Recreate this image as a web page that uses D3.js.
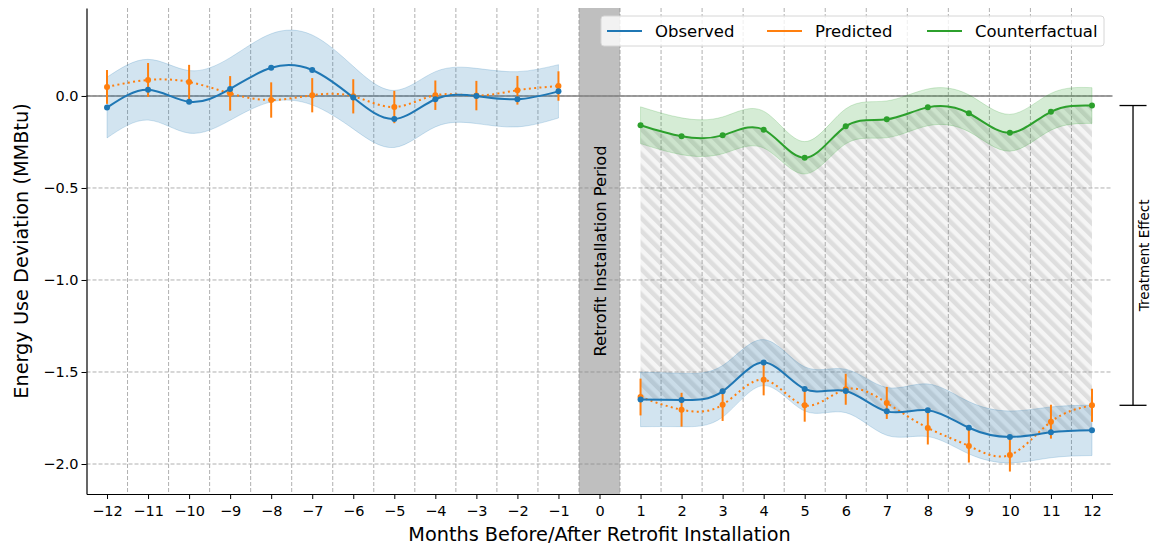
<!DOCTYPE html>
<html>
<head>
<meta charset="utf-8">
<script src="https://cdn.jsdelivr.net/npm/d3@7"></script>
<style>
  body { margin: 0; background: #fff; }
  svg { font-family: "DejaVu Sans", sans-serif; display: block; }
</style>
</head>
<body>
<div id="chart"></div>
<script>
// ---- data ----
const monthsPre = [-12, -11, -10, -9, -8, -7, -6, -5, -4, -3, -2, -1];
const monthsPost = [1, 2, 3, 4, 5, 6, 7, 8, 9, 10, 11, 12];

const observedPre = [-0.063, 0.034, -0.032, 0.038, 0.153, 0.141, -0.009, -0.125, -0.018, 0.0, -0.018, 0.025];
const observedPreBand = [0.165, 0.165, 0.17, 0.17, 0.185, 0.19, 0.17, 0.155, 0.15, 0.15, 0.15, 0.145];
const predictedPre = [0.049, 0.087, 0.076, 0.014, -0.022, 0.004, -0.002, -0.06, 0.004, 0.002, 0.031, 0.054];
const predictedPreErr = [0.092, 0.092, 0.093, 0.094, 0.096, 0.093, 0.093, 0.088, 0.08, 0.08, 0.078, 0.08];

const observedPost = [-1.649, -1.652, -1.605, -1.449, -1.592, -1.603, -1.714, -1.708, -1.803, -1.853, -1.828, -1.817];
const observedPostBand = [0.148, 0.145, 0.14, 0.125, 0.12, 0.118, 0.13, 0.143, 0.142, 0.141, 0.138, 0.137];
const predictedPost = [-1.636, -1.705, -1.678, -1.542, -1.681, -1.594, -1.668, -1.804, -1.902, -1.951, -1.770, -1.681];
const predictedPostErr = [0.1, 0.092, 0.088, 0.085, 0.089, 0.084, 0.087, 0.09, 0.09, 0.09, 0.092, 0.09];

const counterfactual = [-0.159, -0.219, -0.214, -0.183, -0.336, -0.165, -0.127, -0.062, -0.094, -0.2, -0.086, -0.052];
const counterfactualBand = [0.1, 0.1, 0.1, 0.1, 0.088, 0.095, 0.1, 0.1, 0.1, 0.1, 0.1, 0.097];

const xTicks = d3.range(-12, 13);
const yTicks = [0, -0.5, -1.0, -1.5, -2.0];
const seriesNames = ["Observed", "Predicted", "Counterfactual"];
const colors = { obs: "#1f77b4", pred: "#ff7f0e", cf: "#2ca02c" };

// ---- layout ----
const width = 1156, height = 549;
const margin = { top: 8, right: 43.5, bottom: 55, left: 86.5 };

const svg = d3.select("#chart").append("svg")
  .attr("width", width).attr("height", height);

const x = d3.scaleLinear().domain([-12.5, 12.5]).range([margin.left, width - margin.right]);
const y = d3.scaleLinear().domain([-2.163, 0.478]).range([height - margin.bottom, margin.top]);

const fmt = v => d3.format(".1f")(v).replace("-", "\u2212");

// hatch pattern
const defs = svg.append("defs");
const pat = defs.append("pattern")
  .attr("id", "hatch")
  .attr("patternUnits", "userSpaceOnUse")
  .attr("width", 9).attr("height", 9)
  .attr("patternTransform", "rotate(-45)");
pat.append("rect").attr("width", 9).attr("height", 9).attr("fill", "rgba(128,128,128,0.08)");
pat.append("rect").attr("width", 4.5).attr("height", 9).attr("fill", "rgba(128,128,128,0.2)");

// grid
const grid = svg.append("g").attr("stroke", "#b0b0b0").attr("stroke-width", 1).attr("stroke-dasharray", "4,2");
grid.selectAll("line.v")
  .data(d3.range(-11.5, 12, 1))
  .join("line")
  .attr("x1", d => x(d)).attr("x2", d => x(d))
  .attr("y1", y.range()[1]).attr("y2", y.range()[0]);
grid.selectAll("line.h")
  .data(yTicks)
  .join("line")
  .attr("x1", x.range()[0]).attr("x2", x.range()[1])
  .attr("y1", d => y(d)).attr("y2", d => y(d));

// installation period band
svg.append("rect")
  .attr("x", x(-0.5)).attr("width", x(0.5) - x(-0.5))
  .attr("y", y.range()[1]).attr("height", y.range()[0] - y.range()[1])
  .attr("fill", "#808080").attr("fill-opacity", 0.5);

svg.append("text")
  .attr("transform", `translate(${x(0) + 6},${(y.range()[0] + y.range()[1]) / 2}) rotate(-90)`)
  .attr("text-anchor", "middle")
  .attr("font-size", 16.3)
  .text("Retrofit Installation Period");

// zero line
svg.append("line")
  .attr("x1", x.range()[0]).attr("x2", x.range()[1])
  .attr("y1", y(0)).attr("y2", y(0))
  .attr("stroke", "#808080").attr("stroke-width", 1.5);

const toPts = (xs, ys) => xs.map((m, i) => ({ m, v: ys[i] }));
const toBand = (xs, ys, hw) => xs.map((m, i) => ({ m, lo: ys[i] - hw[i], hi: ys[i] + hw[i] }));

const line = d3.line().x(d => x(d.m)).y(d => y(d.v)).curve(d3.curveNatural);
const band = d3.area().x(d => x(d.m)).y0(d => y(d.lo)).y1(d => y(d.hi)).curve(d3.curveNatural);

// treatment region hatch (between counterfactual and observed)
const hatchData = monthsPost.map((m, i) => ({ m, lo: observedPost[i], hi: counterfactual[i] }));
svg.append("path").datum(hatchData).attr("d", band).attr("fill", "url(#hatch)");

// bands
function drawBand(data, color) {
  svg.append("path").datum(data).attr("d", band)
    .attr("fill", color).attr("fill-opacity", 0.2)
    .attr("stroke", color).attr("stroke-opacity", 0.2).attr("stroke-width", 1);
}
drawBand(toBand(monthsPre, observedPre, observedPreBand), colors.obs);
drawBand(toBand(monthsPost, observedPost, observedPostBand), colors.obs);
drawBand(toBand(monthsPost, counterfactual, counterfactualBand), colors.cf);

// predicted: dotted line, error bars, points
function drawPredicted(xs, ys, err) {
  svg.append("path").datum(toPts(xs, ys)).attr("d", line)
    .attr("fill", "none").attr("stroke", colors.pred).attr("stroke-width", 2)
    .attr("stroke-dasharray", "2,3.3");
  svg.append("g").selectAll("line")
    .data(toPts(xs, ys).map((d, i) => ({ ...d, e: err[i] })))
    .join("line")
    .attr("x1", d => x(d.m)).attr("x2", d => x(d.m))
    .attr("y1", d => y(d.v - d.e)).attr("y2", d => y(d.v + d.e))
    .attr("stroke", colors.pred).attr("stroke-width", 2);
  svg.append("g").selectAll("circle")
    .data(toPts(xs, ys))
    .join("circle")
    .attr("cx", d => x(d.m)).attr("cy", d => y(d.v)).attr("r", 3)
    .attr("fill", colors.pred);
}

function drawSolid(xs, ys, color) {
  svg.append("path").datum(toPts(xs, ys)).attr("d", line)
    .attr("fill", "none").attr("stroke", color).attr("stroke-width", 2);
  svg.append("g").selectAll("circle")
    .data(toPts(xs, ys))
    .join("circle")
    .attr("cx", d => x(d.m)).attr("cy", d => y(d.v)).attr("r", 3)
    .attr("fill", color);
}

drawPredicted(monthsPre, predictedPre, predictedPreErr);
drawPredicted(monthsPost, predictedPost, predictedPostErr);
drawSolid(monthsPre, observedPre, colors.obs);
drawSolid(monthsPost, observedPost, colors.obs);
drawSolid(monthsPost, counterfactual, colors.cf);

// axes
const xAxis = svg.append("g")
  .attr("transform", `translate(0,${y.range()[0]})`)
  .call(d3.axisBottom(x).tickValues(xTicks).tickSize(5).tickSizeOuter(0)
    .tickFormat(d => String(d).replace("-", "\u2212")));
xAxis.select(".domain").attr("stroke-width", 1.2);
xAxis.selectAll("text").attr("font-size", 14.5).attr("font-family", "DejaVu Sans").attr("dy", "0.95em");

const yAxis = svg.append("g")
  .attr("transform", `translate(${x.range()[0]},0)`)
  .call(d3.axisLeft(y).tickValues(yTicks).tickSize(5).tickSizeOuter(0).tickFormat(fmt));
yAxis.select(".domain").attr("stroke-width", 1.2);
yAxis.selectAll("text").attr("font-size", 14.5).attr("font-family", "DejaVu Sans");

svg.append("text")
  .attr("x", (x.range()[0] + x.range()[1]) / 2).attr("y", 541)
  .attr("text-anchor", "middle").attr("font-size", 19.3)
  .text("Months Before/After Retrofit Installation");

svg.append("text")
  .attr("transform", `translate(28,${(y.range()[0] + y.range()[1]) / 2}) rotate(-90)`)
  .attr("text-anchor", "middle").attr("font-size", 19.3)
  .text("Energy Use Deviation (MMBtu)");

// legend
const legend = svg.append("g");
legend.append("rect")
  .attr("x", 601).attr("y", 16).attr("width", 503).attr("height", 30).attr("rx", 3)
  .attr("fill", "#fff").attr("fill-opacity", 0.8).attr("stroke", "#d6d6d6");
const legendColors = [colors.obs, colors.pred, colors.cf];
const legendX = [607, 767, 927];
seriesNames.forEach((name, i) => {
  legend.append("line")
    .attr("x1", legendX[i]).attr("x2", legendX[i] + 35)
    .attr("y1", 31).attr("y2", 31)
    .attr("stroke", legendColors[i]).attr("stroke-width", 2);
  legend.append("text")
    .attr("x", legendX[i] + 48).attr("y", 37)
    .attr("font-size", 16.5)
    .text(name);
});

// treatment effect bracket
const bx = x(13);
const bTop = y(counterfactual[counterfactual.length - 1]);
const bBot = y(predictedPost[predictedPost.length - 1]);
const bracket = svg.append("g").attr("stroke", "#000").attr("stroke-width", 1.3);
bracket.append("line").attr("x1", bx).attr("x2", bx).attr("y1", bTop).attr("y2", bBot);
bracket.append("line").attr("x1", bx - 13.5).attr("x2", bx + 13.5).attr("y1", bTop).attr("y2", bTop);
bracket.append("line").attr("x1", bx - 13.5).attr("x2", bx + 13.5).attr("y1", bBot).attr("y2", bBot);
svg.append("text")
  .attr("transform", `translate(${bx + 16},${(bTop + bBot) / 2}) rotate(-90)`)
  .attr("text-anchor", "middle").attr("font-size", 13.5)
  .text("Treatment Effect");
</script>
</body>
</html>
